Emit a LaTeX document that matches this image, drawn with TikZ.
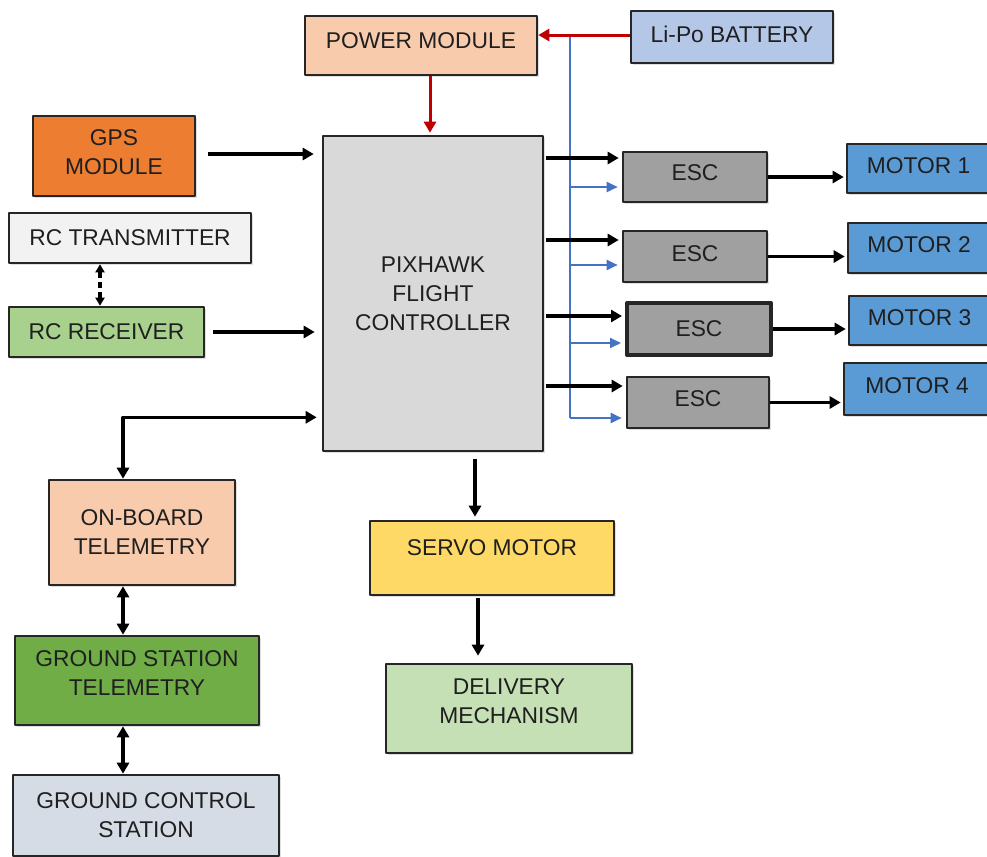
\documentclass[tikz,border=0pt]{standalone}
\usepackage{fontspec}
\setmainfont{Liberation Sans}
\usetikzlibrary{arrows.meta,shadows}

\definecolor{edge}{HTML}{262626}
\definecolor{txt}{HTML}{1F1F1F}
\definecolor{peach}{HTML}{F8CBAD}
\definecolor{batblue}{HTML}{B4C7E7}
\definecolor{fcgray}{HTML}{D9D9D9}
\definecolor{gpsorange}{HTML}{ED7D31}
\definecolor{txgray}{HTML}{F2F2F2}
\definecolor{rxgreen}{HTML}{A9D18E}
\definecolor{gsgreen}{HTML}{70AD47}
\definecolor{gcsblue}{HTML}{D6DCE5}
\definecolor{servoyel}{HTML}{FFD966}
\definecolor{dmgreen}{HTML}{C5E0B4}
\definecolor{escgray}{HTML}{A0A0A0}
\definecolor{motorblue}{HTML}{5B9BD5}
\definecolor{pwrred}{HTML}{C00000}
\definecolor{busblue}{HTML}{4472C4}

\begin{document}
\begin{tikzpicture}[x=0.5pt, y=-0.5pt, line join=round,
    box/.style={draw=edge, line width=1.3pt, text=txt, align=center, inner sep=0pt,
        font=\fontsize{11.4}{14.5}\selectfont,
        drop shadow={opacity=0.25, shadow xshift=1.2pt, shadow yshift=-1.2pt}},
    sz/.style 2 args={minimum width=#1, minimum height=#2},
    arr/.style={line width=1.7pt, -{Triangle[length=5.5pt,width=6pt]}},
    darr/.style={line width=1.7pt, {Triangle[length=5.5pt,width=6pt]}-{Triangle[length=5.5pt,width=6pt]}},
    redarr/.style={pwrred, line width=1.5pt, -{Triangle[length=5.5pt,width=6pt]}},
    bluearr/.style={busblue, line width=1pt, -{Triangle[length=5.5pt,width=5pt]}}]
    \useasboundingbox (0,0) rectangle (987,857);

    % power side
    \node[box, sz={116pt}{29.5pt}, fill=peach] (pm) at (421,45.5) {\raisebox{5pt}{POWER MODULE}};
    \node[box, sz={101pt}{26pt}, fill=batblue] (bat) at (732,37) {\raisebox{3pt}{Li-Po BATTERY}};

    % flight controller
    \node[box, sz={110pt}{157.5pt}, fill=fcgray] (fc) at (433,293.5) {PIXHAWK\\FLIGHT\\CONTROLLER};

    % inputs on the left
    \node[box, sz={81pt}{40pt}, fill=gpsorange] (gps) at (114,156)
        {\raisebox{1pt}[\height][\depth]{\begin{tabular}{@{}c@{}}GPS\\MODULE\end{tabular}}};
    \node[box, sz={121pt}{25pt}, fill=txgray] (tx) at (130,238) {RC TRANSMITTER};
    \node[box, sz={97.5pt}{25pt}, fill=rxgreen] (rx) at (106.5,332) {RC RECEIVER};

    % telemetry chain
    \node[box, sz={93pt}{52.5pt}, fill=peach] (obt) at (142,532.5) {ON-BOARD\\TELEMETRY};
    \node[box, sz={122pt}{44.5pt}, fill=gsgreen] (gst) at (137,680.5)
        {\raisebox{2.5pt}[\height][\depth]{\begin{tabular}{@{}c@{}}GROUND STATION\\TELEMETRY\end{tabular}}};
    \node[box, sz={133pt}{40.5pt}, fill=gcsblue] (gcs) at (146,815.5) {GROUND CONTROL\\STATION};

    % payload
    \node[box, sz={122pt}{37pt}, fill=servoyel] (servo) at (492,558) {\raisebox{10pt}{SERVO MOTOR}};
    \node[box, sz={123pt}{44.5pt}, fill=dmgreen] (dm) at (509,708.5)
        {\raisebox{2.5pt}[\height][\depth]{\begin{tabular}{@{}c@{}}DELIVERY\\MECHANISM\end{tabular}}};

    % ESCs and motors
    \node[box, sz={72pt}{25pt}, fill=escgray] (esc1) at (695,177) {\raisebox{4pt}{ESC}};
    \node[box, sz={72pt}{25.5pt}, fill=escgray] (esc2) at (695,256.5) {\raisebox{3pt}{ESC}};
    \node[box, sz={72pt}{26pt}, fill=escgray, line width=2pt] (esc3) at (699,329) {ESC};
    \node[box, sz={71pt}{25.5pt}, fill=escgray] (esc4) at (698,402.5) {\raisebox{4pt}{ESC}};
    \node[box, sz={71.5pt}{24.5pt}, fill=motorblue] (m1) at (918.5,168.5) {\raisebox{3pt}{MOTOR 1}};
    \node[box, sz={71pt}{25pt}, fill=motorblue] (m2) at (919,248) {\raisebox{3pt}{MOTOR 2}};
    \node[box, sz={70.5pt}{24.5pt}, fill=motorblue] (m3) at (919.5,320.5) {\raisebox{3pt}{MOTOR 3}};
    \node[box, sz={73pt}{26pt}, fill=motorblue] (m4) at (917,389) {\raisebox{3pt}{MOTOR 4}};

    % columns of the vertical links
    \coordinate (pcol) at (430,0);
    \coordinate (bus) at (570,0);
    \coordinate (rcol) at (100,0);
    \coordinate (tcol) at (123,0);

    % battery supply
    \draw[busblue, line width=1pt] ([yshift=1pt]bat.west -| bus) -- ([yshift=-7.75pt]esc4.west -| bus);
    \draw[redarr] ([yshift=1pt]bat.west) -- ([yshift=1pt]bat.west -| pm.east);
    \draw[redarr, shorten >=1pt] (pm.south -| pcol) -- (fc.north -| pcol);

    % controller to ESCs, ESCs to motors
    \foreach \e/\b/\u in {esc1/9.5/-5, esc2/8.25/-4.25, esc3/6.5/-7, esc4/8.25/-7.75} {
        \draw[arr, shorten <=1pt, shorten >=1.5pt] ([yshift=\b pt]\e.west -| fc.east) -- ([yshift=\b pt]\e.west);
        \draw[bluearr, shorten >=2pt] ([yshift=\u pt]\e.west -| bus) -- ([yshift=\u pt]\e.west);
    }
    \foreach \e/\m in {esc1/m1, esc2/m2, esc3/m3, esc4/m4}
        \draw[arr, shorten >=1pt] (\e.east) -- (\e.east -| \m.west);

    % inputs
    \draw[arr, shorten <=6pt, shorten >=4pt] ([yshift=1pt]gps.east) -- ([yshift=1pt]gps.east -| fc.west);
    \draw[arr, shorten <=4pt, shorten >=3.5pt] (rx.east) -- (rx.east -| fc.west);
    \draw[line width=1.8pt, dash pattern=on 3pt off 2pt,
        {Triangle[length=4pt,width=4.5pt]}-{Triangle[length=4pt,width=4.5pt]}]
        (tx.south -| rcol) -- (rx.north -| rcol);

    % telemetry
    \draw[darr, shorten >=2.5pt] (obt.north -| tcol) |- ([yshift=17.5pt]fc.south west);
    \draw[darr] (obt.south -| tcol) -- (gst.north -| tcol);
    \draw[darr] (gst.south -| tcol) -- (gcs.north -| tcol);

    % payload
    \draw[arr, shorten <=3.5pt, shorten >=1.5pt] (fc.south -| 475,0) -- (servo.north -| 475,0);
    \draw[arr, shorten <=1pt, shorten >=3.5pt] (servo.south -| 478,0) -- (dm.north -| 478,0);
\end{tikzpicture}
\end{document}
